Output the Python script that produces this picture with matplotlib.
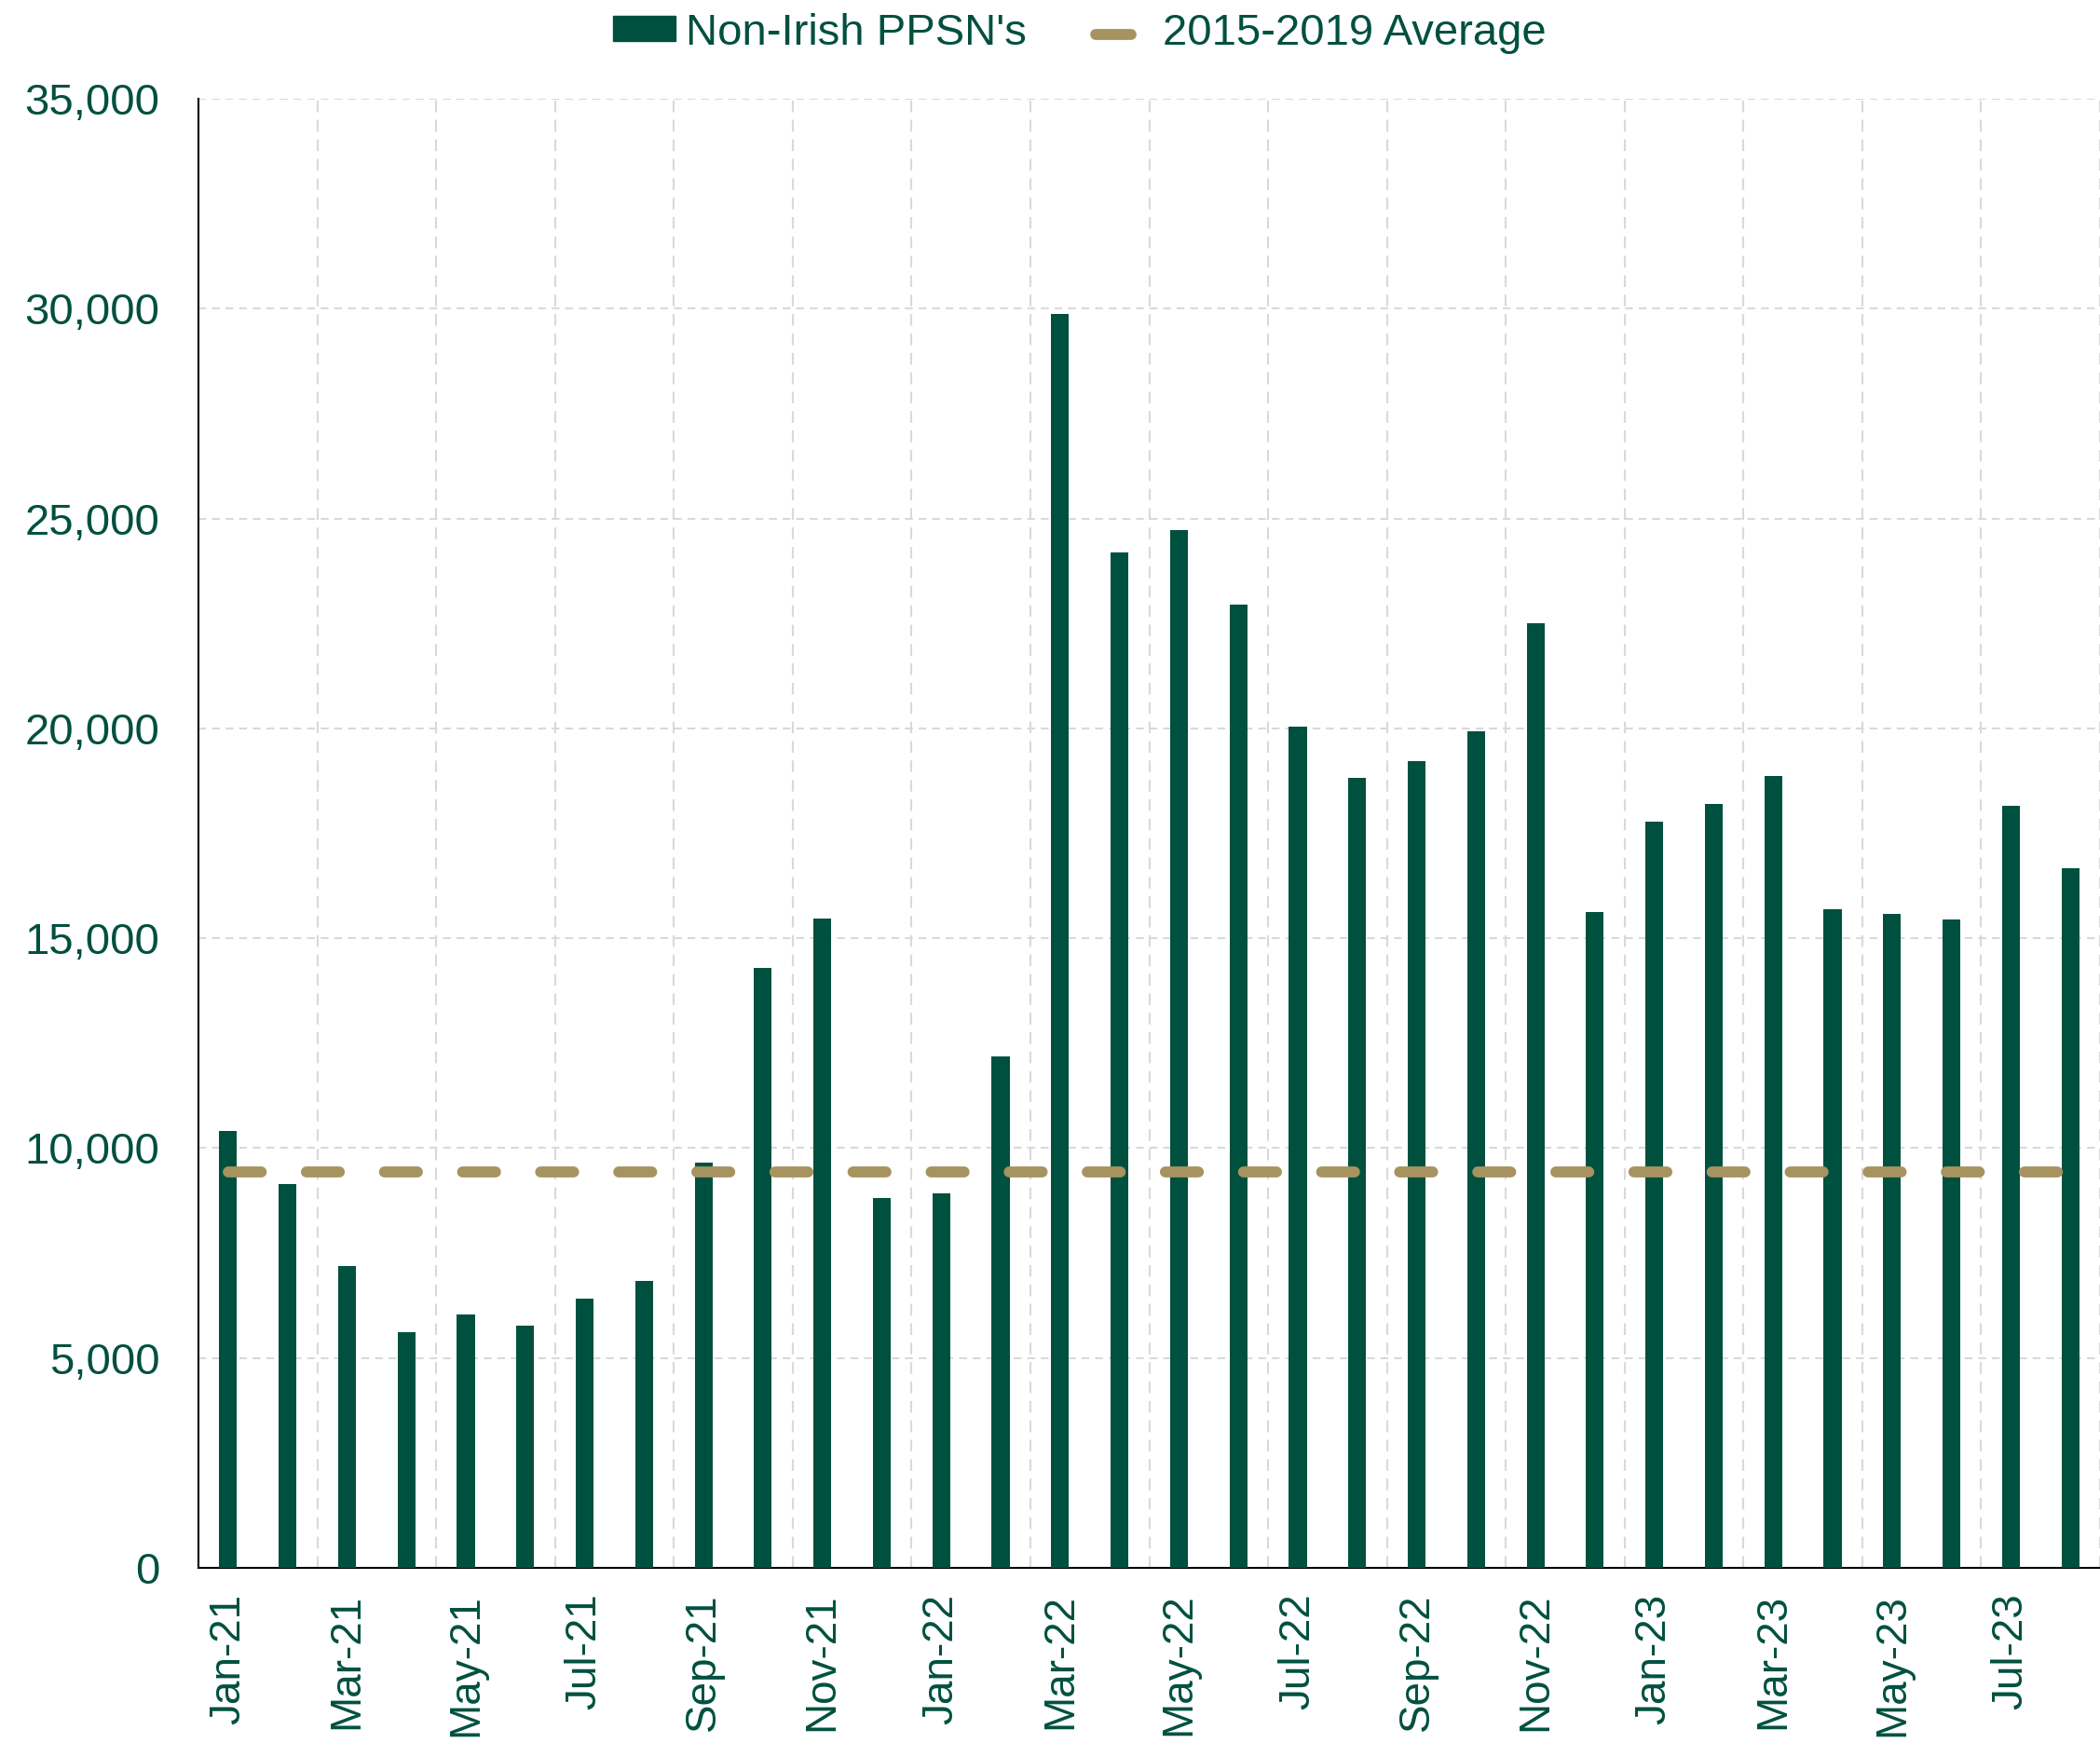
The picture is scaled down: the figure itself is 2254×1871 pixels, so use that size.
import matplotlib
matplotlib.use("Agg")
import matplotlib.pyplot as plt
from matplotlib.patches import Patch
from matplotlib.lines import Line2D
import numpy as np

plt.rcParams['font.family'] = ['Liberation Sans', 'DejaVu Sans']

months = ["Jan-21", "Feb-21", "Mar-21", "Apr-21", "May-21", "Jun-21", "Jul-21", "Aug-21",
          "Sep-21", "Oct-21", "Nov-21", "Dec-21", "Jan-22", "Feb-22", "Mar-22", "Apr-22",
          "May-22", "Jun-22", "Jul-22", "Aug-22", "Sep-22", "Oct-22", "Nov-22", "Dec-22",
          "Jan-23", "Feb-23", "Mar-23", "Apr-23", "May-23", "Jun-23", "Jul-23", "Aug-23"]
non_irish = [10420, 9150, 7200, 5620, 6040, 5780, 6420, 6830,
             9660, 14290, 15480, 8800, 8920, 12190, 29870, 24190,
             24730, 22940, 20040, 18830, 19210, 19940, 22500, 15620,
             17770, 18190, 18860, 15700, 15570, 15440, 18160, 16660]
avg_2015_2019 = [9430] * len(months)

green = "#00503F"
gold = "#A69360"
avg_lw = 8.5


class ShortLine:
    # legend handle: one short rounded dash at the left of the handle box
    def legend_artist(self, legend, orig_handle, fontsize, handlebox):
        x0, y0 = handlebox.xdescent, handlebox.ydescent
        w, h = handlebox.width, handlebox.height
        r = avg_lw / 2
        ln = Line2D([x0 + r, x0 + 0.74 * w - r], [y0 + h / 2] * 2, color=gold, lw=avg_lw,
                    solid_capstyle='round', transform=handlebox.get_transform())
        handlebox.add_artist(ln)
        return ln


fig = plt.figure(figsize=(22.54, 18.71), dpi=100)
ax = fig.add_axes([0.0945, 0.1005, 0.9055, 0.8428])

x = np.arange(len(months))
ax.bar(x, non_irish, width=0.30, color=green, zorder=3)
avg_line, = ax.plot(x, avg_2015_2019, color=gold, lw=avg_lw, dashes=(3.0, 4.1),
                    dash_capstyle='round', zorder=4)

ax.set_xlim(-0.5, len(months) - 0.5)
ax.set_ylim(0, 35000)
ax.set_yticks(np.arange(0, 35001, 5000))
ax.set_yticklabels([f"{v:,}" for v in range(0, 35001, 5000)])
ax.set_xticks(x[::2])
ax.set_xticklabels(months[::2], rotation=90)
ax.set_xticks(np.arange(1.5, len(months), 2), minor=True)

ax.grid(axis='y', color='#D9D9D9', ls=(0, (4, 3)), lw=1.5, zorder=0)
ax.grid(axis='x', which='minor', color='#D9D9D9', ls=(0, (6, 4)), lw=1.5, zorder=0)
ax.tick_params(axis='both', which='both', length=0, labelcolor=green)
ax.tick_params(axis='y', pad=30, labelsize=34)
ax.tick_params(axis='x', pad=20, labelsize=33)

for s in ['top', 'right']:
    ax.spines[s].set_visible(False)
for s in ['left', 'bottom']:
    ax.spines[s].set_color('black')
    ax.spines[s].set_linewidth(1.5)

handles = [Patch(color=green, label="Non-Irish PPSN's"),
           Line2D([0], [0], color=gold, lw=avg_lw, label="2015-2019 Average")]
leg = fig.legend(handles=handles, loc='center', bbox_to_anchor=(0.514, 0.981), ncol=2,
                 frameon=False, fontsize=34, handlelength=1.43, handleheight=0.5,
                 handletextpad=0.22, columnspacing=1.45,
                 handler_map={Line2D: ShortLine()})
for t in leg.get_texts():
    t.set_color(green)

fig.savefig("out.png", dpi=100)
